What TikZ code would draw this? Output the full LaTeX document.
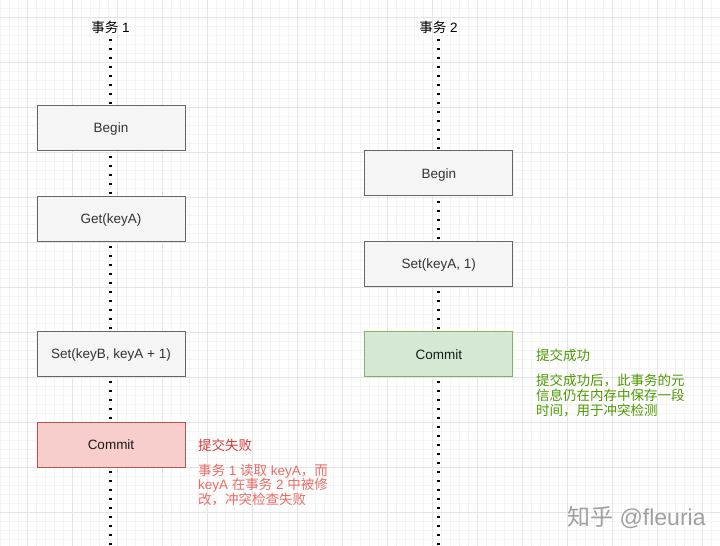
\documentclass[tikz,border=0pt]{standalone}
\usepackage{fontspec}
\setmainfont{Liberation Sans}
\newfontfamily\cjk{Noto Sans CJK SC}
\definecolor{gridminor}{HTML}{F4F4F4}
\definecolor{gridmajor}{HTML}{E4E4E4}
\definecolor{boxfill}{HTML}{F5F5F5}
\definecolor{boxline}{HTML}{666666}
\definecolor{boxtext}{HTML}{333333}
\definecolor{redfill}{HTML}{F8CECC}
\definecolor{redline}{HTML}{B85450}
\definecolor{redtext}{HTML}{D63A3A}
\definecolor{redsoft}{HTML}{EA6B66}
\definecolor{greenfill}{HTML}{D5E8D4}
\definecolor{greenline}{HTML}{82B366}
\definecolor{greentext}{HTML}{4D9900}
\definecolor{wmark}{HTML}{A0A0A0}
\tikzset{
  gminor/.style={draw=gridminor, line width=0.6pt},
  gmajor/.style={draw=gridmajor, line width=0.8pt},
  lifeline/.style={draw=black, line width=2.2pt, dash pattern=on 2.2pt off 6.8pt},
  title/.style={font=\fontsize{13.5}{16}\selectfont, text=black, inner sep=2pt},
  stepbox/.style={draw=boxline, fill=boxfill, line width=1pt, minimum width=148pt, minimum height=45pt,
    text=boxtext, font=\fontsize{13.5}{16}\selectfont, inner sep=0pt, text height=9.7pt, text depth=0pt},
  failbox/.style={stepbox, draw=redline, fill=redfill, text=black!90},
  okbox/.style={stepbox, draw=greenline, fill=greenfill, text=black!90},
  note/.style={font=\fontsize{13.5}{15}\selectfont\cjk, anchor=west, inner sep=0pt},
  para/.style={font=\fontsize{13.5}{14.8}\selectfont, anchor=north west, inner sep=0pt, align=left},
}
\begin{document}
\begin{tikzpicture}[x=1pt, y=-1pt]
\useasboundingbox (0,0) rectangle (720,546);
\fill[white] (0,0) rectangle (720,546);
% grid
\foreach \i in {0,...,80} {\draw[gminor] ({9*\i},0) -- ({9*\i},546);}
\foreach \i in {0,...,60} {\draw[gminor] (0,{8.7+9*\i}) -- (720,{8.7+9*\i});}
\foreach \i in {0,...,15} {\draw[gmajor] ({27+45*\i},0) -- ({27+45*\i},546);}
\foreach \i in {0,...,12} {\draw[gmajor] (0,{17.7+45*\i}) -- (720,{17.7+45*\i});}

% titles
\node[title] (t1) at (110.5,27.3) {{\cjk 事务} 1};
\node[title] (t2) at (438.5,27.3) {{\cjk 事务} 2};
\coordinate (t1end) at (110.5,546);
\coordinate (t2end) at (438.5,546);
\draw[lifeline] (t1.south |- 0,39) -- (t1end);
\draw[lifeline] (t2.south |- 0,39) -- (t2end);

% transaction 1
\node[stepbox] (b1) at (111,128) {Begin};
\node[stepbox] (g1) at (111,218.5) {Get(keyA)};
\node[stepbox] (s1) at (111,354) {Set(keyB, keyA + 1)};
\node[failbox] (c1) at (111,444.5) {Commit};

% transaction 2
\node[stepbox] (b2) at (438.8,173.2) {Begin};
\node[stepbox] (s2) at (438.8,263.5) {Set(keyA, 1)};
\node[okbox] (c2) at (438.8,354.2) {Commit};

% notes
\node[note, text=redtext] (f1) at (198,445) {提交失败};
\node[para, text=redsoft] (f2) at (198,463.5) {{\cjk 事务} 1 {\cjk 读取} keyA{\cjk ，而}\\keyA {\cjk 在事务} 2 {\cjk 中被修}\\{\cjk 改，冲突检查失败}};
\node[note, text=greentext] (o1) at (536,355) {提交成功};
\node[para, text=greentext] (o2) at (536,374) {{\cjk 提交成功后，此事务的元}\\{\cjk 信息仍在内存中保存一段}\\{\cjk 时间，用于冲突检测}};

% watermark
\node[font=\fontsize{23}{26}\selectfont, text=wmark, anchor=west, inner sep=0pt] (wm) at (567,517) {{\cjk 知乎} @fleuria};
\end{tikzpicture}
\end{document}
